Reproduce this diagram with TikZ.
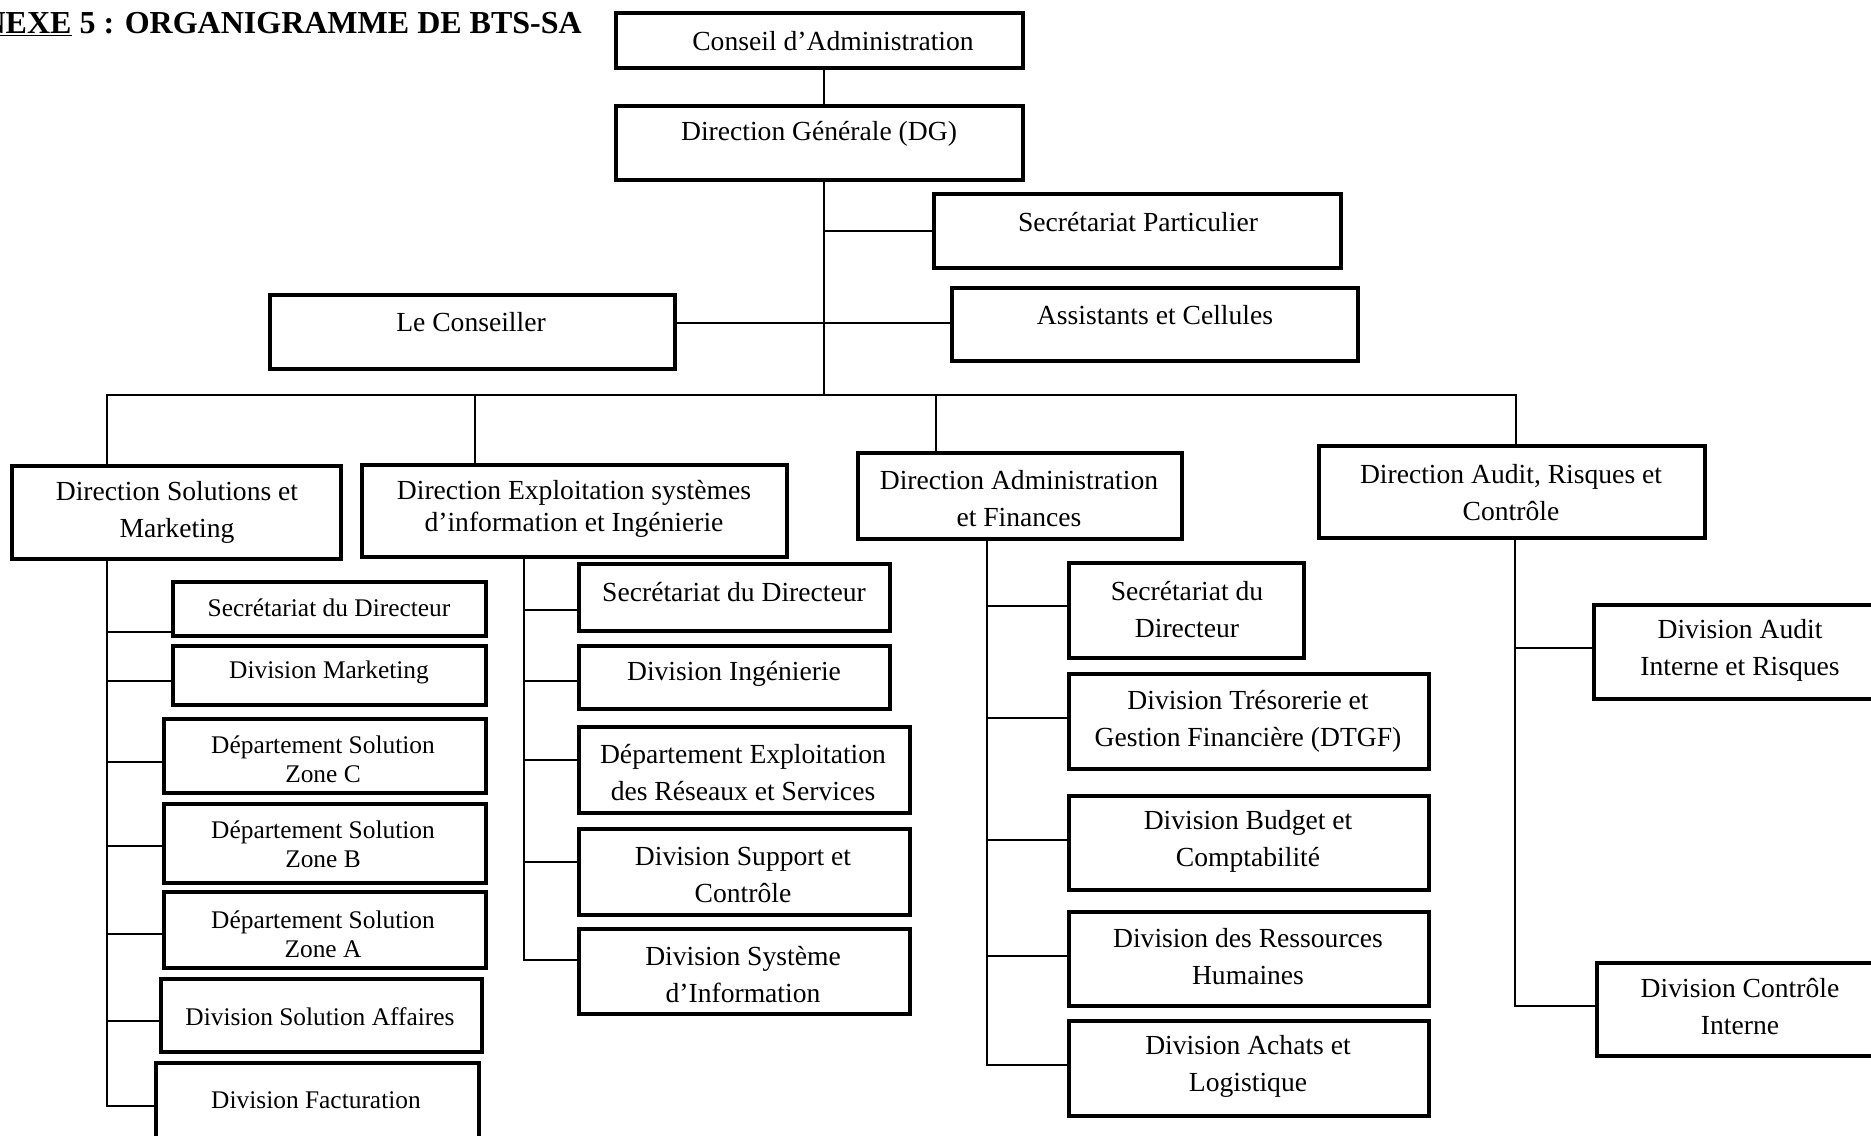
\documentclass[tikz,border=0pt]{standalone}
\usepackage{fontspec}
\setmainfont{Liberation Serif}
\usetikzlibrary{fit}
\tikzset{
  box/.style={draw, line width=2pt, inner sep=0pt, rectangle},
  conn/.style={line width=1.3pt},
  txt/.style={font=\fontsize{13.8}{18.5}\selectfont, align=center, inner sep=0pt},
  txtb/.style={font=\fontsize{13.8}{16}\selectfont, align=center, inner sep=0pt},
  stxt/.style={font=\fontsize{12.7}{14.5}\selectfont, align=center, inner sep=0pt},
}
\begin{document}
\begin{tikzpicture}[x=0.5pt,y=-0.5pt]
\useasboundingbox (0,0) rectangle (1871,1135);
\clip (0,0) rectangle (1871,1135);
\fill[white] (0,0) rectangle (1871,1135);
% title
\node[anchor=base west, inner sep=0pt, font=\fontsize{16}{19}\selectfont\bfseries] (title) at (-64,33) {\underline{ANNEXE} 5 : ORGANIGRAMME DE BTS-SA};
% top boxes
\node[box, fit={(616,13) (1023,68)}] (ca) {};
\node[txt] (cat) at (833,41) {Conseil d’Administration};
\node[box, fit={(616,106) (1023,180)}] (dg) {};
\node[txt] (dgt) at (819,134) {Direction Générale (DG)};
\node[box, fit={(934,194) (1341,268)}] (sp) {};
\node[txt] (spt) at (1138,222) {Secrétariat Particulier};
\node[box, fit={(270,295) (675,369)}] (lc) {};
\node[txt] (lct) at (471,322) {Le Conseiller};
\node[box, fit={(952,288) (1358,361)}] (as) {};
\node[txt] (ast) at (1155,315) {Assistants et Cellules};
% directions
\node[box, fit={(12,466) (341,559)}] (sol) {};
\node[txt] (solt) at (177,512) {Direction Solutions et\\Marketing};
\node[box, fit={(362,465) (787,557)}] (exp) {};
\node[txtb] (expt) at (574,509) {Direction Exploitation systèmes\\d’information et Ingénierie};
\node[box, fit={(858,453) (1182,539)}] (adm) {};
\node[txt] (admt) at (1019,499) {Direction Administration\\et Finances};
\node[box, fit={(1319,446) (1705,538)}] (aud) {};
\node[txt] (audt) at (1511,493) {Direction Audit, Risques et\\Contrôle};
% solutions children
\node[box, fit={(173,582) (486,636)}] (s1) {};
\node[stxt] (s1t) at (329,608) {Secrétariat du Directeur};
\node[box, fit={(173,646) (486,705)}] (s2) {};
\node[stxt] (s2t) at (329,672) {Division Marketing};
\node[box, fit={(164,719) (486,793)}] (s3) {};
\node[stxt] (s3t) at (323,759) {Département Solution\\Zone C};
\node[box, fit={(164,804) (486,883)}] (s4) {};
\node[stxt] (s4t) at (323,844) {Département Solution\\Zone B};
\node[box, fit={(164,892) (486,968)}] (s5) {};
\node[stxt] (s5t) at (323,934) {Département Solution\\Zone A};
\node[box, fit={(161,979) (482,1052)}] (s6) {};
\node[stxt] (s6t) at (320,1017) {Division Solution Affaires};
\node[box, fit={(156,1063) (479,1150)}] (s7) {};
\node[stxt] (s7t) at (316,1100) {Division Facturation};
% exploitation children
\node[box, fit={(579,564) (890,631)}] (e1) {};
\node[txt] (e1t) at (734,592) {Secrétariat du Directeur};
\node[box, fit={(579,646) (890,709)}] (e2) {};
\node[txt] (e2t) at (734,674) {Division Ingénierie};
\node[box, fit={(579,727) (910,813)}] (e3) {};
\node[txt] (e3t) at (743,773) {Département Exploitation\\des Réseaux et Services};
\node[box, fit={(579,829) (910,915)}] (e4) {};
\node[txt] (e4t) at (743,875) {Division Support et\\Contrôle};
\node[box, fit={(579,929) (910,1014)}] (e5) {};
\node[txt] (e5t) at (743,975) {Division Système\\d’Information};
% admin children
\node[box, fit={(1069,563) (1304,658)}] (a1) {};
\node[txt] (a1t) at (1187,610) {Secrétariat du\\Directeur};
\node[box, fit={(1069,674) (1429,769)}] (a2) {};
\node[txt] (a2t) at (1248,721) {Division Trésorerie et\\Gestion Financière (DTGF)};
\node[box, fit={(1069,796) (1429,890)}] (a3) {};
\node[txt] (a3t) at (1248,841) {Division Budget et\\Comptabilité};
\node[box, fit={(1069,912) (1429,1006)}] (a4) {};
\node[txt] (a4t) at (1248,957) {Division des Ressources\\Humaines};
\node[box, fit={(1069,1021) (1429,1116)}] (a5) {};
\node[txt] (a5t) at (1248,1066) {Division Achats et\\Logistique};
% audit children
\node[box, fit={(1594,605) (1890,699)}] (u1) {};
\node[txt] (u1t) at (1740,650) {Division Audit\\Interne et Risques};
\node[box, fit={(1597,963) (1890,1056)}] (u2) {};
\node[txt] (u2t) at (1740,1007) {Division Contrôle\\Interne};
% connectors top
\draw[conn] (ca.south -| 824,0) -- (dg.north -| 824,0);
\coordinate (bus) at (824,395);
\draw[conn] (dg.south -| 824,0) -- (bus);
\draw[conn] (dg.south -| 824,0) |- (sp.west);
\draw[conn] (lc.east |- 0,323) -- (as.west |- 0,323);
\draw[conn] (sol.north -| 107,0) |- (bus) -| (aud.north -| 1516,0);
\draw[conn] (exp.north -| 475,0) -- (475,395);
\draw[conn] (adm.north -| 936,0) -- (936,395);
% children connectors
\foreach \c/\y in {s1/632,s2/681,s3/762,s4/846,s5/934,s6/1021,s7/1106}
  \draw[conn] (sol.south -| 107,0) |- (\c.west |- 0,\y);
\foreach \c/\y in {e1/610,e2/681,e3/760,e4/862,e5/960}
  \draw[conn] (exp.south -| 524,0) |- (\c.west |- 0,\y);
\foreach \c/\y in {a1/606,a2/718,a3/840,a4/956,a5/1065}
  \draw[conn] (adm.south -| 987,0) |- (\c.west |- 0,\y);
\foreach \c/\y in {u1/648,u2/1006}
  \draw[conn] (aud.south -| 1515,0) |- (\c.west |- 0,\y);
\end{tikzpicture}
\end{document}
